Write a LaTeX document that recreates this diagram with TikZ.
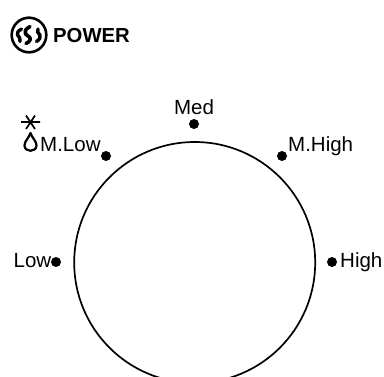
\documentclass[tikz,border=0pt]{standalone}
\usepackage{fontspec}
\setmainfont{Liberation Sans}
\tikzset{
  dot/.style={circle,fill=black,inner sep=0pt,minimum size=10pt},
  lab/.style={inner sep=0pt,font=\fontsize{20.5}{22}\selectfont},
  ink/.style={black,line cap=round,line join=round}
}
\begin{document}
\begin{tikzpicture}[x=1pt,y=-1pt]
\useasboundingbox (0,0) rectangle (384,376);
\begin{scope}
\clip (0,0) rectangle (384,376);
\draw[line width=1.7pt] (194.7,262.5) circle (120.5);
\end{scope}
% title icon
\draw[line width=2.6pt] (29,35) circle (17.3);
\draw[ink,line width=3.6pt] (30,26.5) .. controls (25.5,29) and (24,31.5) .. (25.5,34)
  .. controls (27,36) and (31.5,37) .. (30,40) .. controls (29.5,41.5) and (28,42.5) .. (26,43.5);
\draw[ink,line width=3.4pt] (21.5,29) .. controls (18,31) and (16.5,33) .. (17.5,35)
  .. controls (18.5,37) and (21.5,38.5) .. (20,41.5);
\draw[ink,line width=3.4pt] (38,29) .. controls (36,31.5) and (38.5,33) .. (40,35)
  .. controls (41,37.5) and (39.5,39.5) .. (36.5,41.5);
\node[anchor=west,inner sep=0pt,font=\bfseries\fontsize{20.3}{22}\selectfont] (title) at (53,35.5) {POWER};
% dots
\node[dot] (dmed) at (194,124) {};
\node[dot] (dmh) at (282,156) {};
\node[dot] (dh) at (332,262) {};
\node[dot] (dl) at (56,262) {};
\node[dot] (dml) at (106,156) {};
% labels
\node[lab,anchor=base] (lmed) at (194,114) {Med};
\node[lab,anchor=base west] (lmh) at (288,151) {M.High};
\node[lab,anchor=base west] (lh) at (340,267) {High};
\node[lab,anchor=base east] (ll) at (51.5,267) {Low};
\node[lab,anchor=base west] (lml) at (40,151) {M.Low};
% defrost symbol
\draw[line width=1.7pt] (21,122) -- (40,122) (26,115.5) -- (35,129) (35,115.5) -- (26,129);
\draw[line width=2.2pt,line join=round] (30.5,133)
  .. controls (29,138) and (24.5,141) .. (24.5,145.5)
  .. controls (24.5,152.5) and (36.5,152.5) .. (36.5,145.5)
  .. controls (36.5,141) and (32,138) .. cycle;
\end{tikzpicture}
\end{document}
